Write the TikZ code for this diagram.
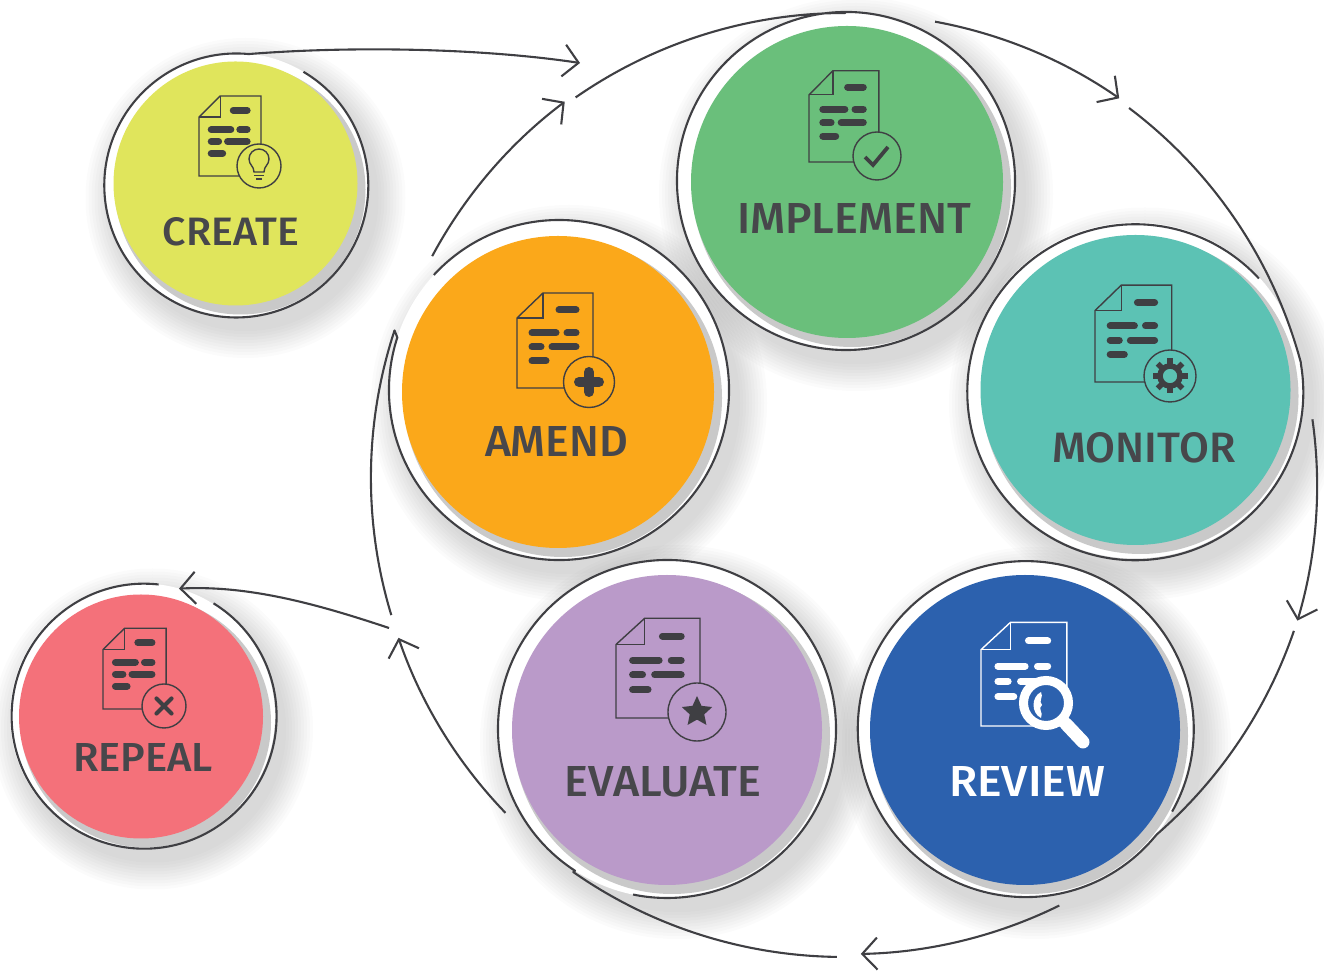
\documentclass[tikz,border=0pt]{standalone}
\usepackage{fontspec}
\setmainfont{Fira Sans}[BoldFont={Fira Sans Medium}]
\usetikzlibrary{arrows.meta,shapes.geometric}
\definecolor{ink}{HTML}{3F3F43}
\definecolor{labelgray}{HTML}{47474B}
\definecolor{createfill}{HTML}{E0E55C}
\definecolor{implfill}{HTML}{6ABF7B}
\definecolor{monitorfill}{HTML}{5CC2B4}
\definecolor{amendfill}{HTML}{FBA81A}
\definecolor{evalfill}{HTML}{BA9AC9}
\definecolor{reviewfill}{HTML}{2C61AE}
\definecolor{repealfill}{HTML}{F4717A}
\newcommand{\tagtext}[3]{\resizebox{#1pt}{#2pt}{\bfseries #3}}
\tikzset{
  docicon/.pic={
    \draw[line width=1.4,line join=miter] (26,95) -- (76,95) -- (76,0) -- (0,0) -- (0,70) -- cycle;
    \draw[line width=1.4] (26,95) -- (26,70) -- (0,70);
    \draw[line width=7,line cap=round] (42,78) -- (59,78)
      (15,55) -- (39,55) (50,55) -- (59,55)
      (15,41) -- (24,41) (35,41) -- (59,41)
      (15,27) -- (29,27);
  }
}
\begin{document}
\begin{tikzpicture}[
    x=1pt,y=1pt,
    ringnode/.style={circle,inner sep=0pt,outer sep=0pt},
    bubble/.style={circle,inner sep=0pt,outer sep=0pt},
    badge/.style={circle,draw=ink,line width=1.4,inner sep=0pt,outer sep=0pt},
    tag/.style={font=\fontsize{41}{41}\selectfont,text=labelgray,inner sep=0pt},
    conn/.style={draw=ink,line width=2.1,line join=round},
    arr/.style={conn,-{Straight Barb[length=15pt,width=32pt,line width=2.1pt]}}
  ]
    \useasboundingbox (0,0) rectangle (1324,971);

    % soft shadows, then the white disc and grey crescent behind each bubble
    \foreach \nm/\cx/\cy/\r in {createring/235.5/786/132,implring/846/790/169,monitorring/1135/580.5/168,
        amendring/559/581/170,evalring/667/242/169,reviewring/1025/241/168,repealring/142.5/255/132.5}{
      \foreach \k in {0,...,9}
        \fill[black,opacity=.014] ({\cx+10},{\cy-13}) circle ({\r+28-\k*3});
    }
    \foreach \nm/\cx/\cy/\r/\fx/\fy/\fr in {createring/235.5/786/132/235.5/787.5/122,implring/846/790/169/847/789/156,
        monitorring/1135/580.5/168/1135.5/581/155,amendring/559/581/170/558/579/156,
        evalring/667/242/169/667/241/155,reviewring/1025/241/168/1025/241/155,
        repealring/142.5/255/132.5/141/254.5/122}{
      \node[ringnode,fill=white,minimum size=2*\r] (\nm) at (\cx,\cy) {};
      \fill[gray!22] ({\fx+3},{\fy-4}) circle ({\fr+2});
      \fill[gray!42] ({\fx+5},{\fy-6}) circle ({\fr+3});
    }
    \node[ringnode,minimum size=944] (loop) at (845,486) {};

    \node[bubble,fill=createfill,minimum size=244]  (create) at (235.5,787.5) {};
    \node[bubble,fill=implfill,minimum size=312]    (impl)   at (847,789) {};
    \node[bubble,fill=monitorfill,minimum size=310] (monitor) at (1135.5,581) {};
    \node[bubble,fill=amendfill,minimum size=312]   (amend)  at (558,579) {};
    \node[bubble,fill=evalfill,minimum size=310]    (eval)   at (667,241) {};
    \node[bubble,fill=reviewfill,minimum size=310]  (review) at (1025,241) {};
    \node[bubble,fill=repealfill,minimum size=244]  (repeal) at (141,254.5) {};

    \node[tag] (createtag)  at (231,739)   {\tagtext{136}{28}{CREATE}};
    \node[tag] (impltag)    at (854,752)   {\tagtext{234}{30}{IMPLEMENT}};
    \node[tag] (monitortag) at (1144,523)  {\tagtext{183}{30}{MONITOR}};
    \node[tag] (amendtag)   at (556.5,529) {\tagtext{143}{30}{AMEND}};
    \node[tag] (evaltag)    at (663,189)   {\tagtext{197}{30}{EVALUATE}};
    \node[tag,text=white] (reviewtag) at (1027,189) {\tagtext{156}{30}{REVIEW}};
    \node[tag] (repealtag)  at (143,213)   {\tagtext{140}{28}{REPEAL}};

    % document icons
    \pic[color=ink,xscale=.816,yscale=.842] at (199,795) {docicon};
    \pic[color=ink,xscale=.92,yscale=.96]   at (809,809) {docicon};
    \pic[color=ink,xscale=1.01,yscale=1.02] at (1095,589) {docicon};
    \pic[color=ink]                         at (517,583) {docicon};
    \pic[color=ink,xscale=1.105,yscale=1.05] at (616,253) {docicon};
    \pic[color=white,xscale=1.13,yscale=1.09] at (981,245) {docicon};
    \pic[color=ink,xscale=.83,yscale=.85]   at (103,262) {docicon};

    \node[badge,fill=createfill,minimum size=44]  (bulb)  at (259,805) {};
    \node[badge,fill=implfill,minimum size=48]    (check) at (877,815) {};
    \node[badge,fill=monitorfill,minimum size=52] (gear)  at (1170,595) {};
    \node[badge,fill=amendfill,minimum size=51]   (plus)  at (589,589) {};
    \node[badge,fill=evalfill,minimum size=58]    (mark)  at (697,259) {};
    \node[badge,fill=repealfill,minimum size=44]  (cross) at (164,265) {};

    % badge glyphs
    \draw[ink,line width=1.4] (254,799) .. controls (254,805) and (249,806) .. (249,812)
      arc[start angle=180,end angle=0,radius=10] .. controls (269,806) and (264,805) .. (264,799) -- cycle;
    \draw[ink,line width=1.7] (254,795.5) -- (264,795.5) (256,792) -- (262,792);
    \draw[ink,line width=3.8,line join=miter] (865,814) -- (873,806) -- (888,824);
    \foreach \a in {0,45,...,315}
      \draw[ink,line width=5.5] (1170,595)++(\a:11) -- ++(\a:6.5);
    \draw[ink,line width=5.5] (1170,595) circle (10);
    \draw[ink,line width=10,line cap=round] (579,589) -- (599,589) (589,579) -- (589,599);
    \node[star,star points=5,star point ratio=2.1,fill=ink,minimum size=32,inner sep=0pt] (starglyph) at (697,259) {};
    \draw[ink,line width=4.2,line cap=round] (156.5,257.5) -- (171.5,272.5) (156.5,272.5) -- (171.5,257.5);

    % magnifier
    \draw[white,line width=13,line cap=round] (1066,247) -- (1083,229);
    \node[circle,draw=white,fill=reviewfill,line width=9,minimum size=45,inner sep=0pt] (lens) at (1046,268) {};
    \fill[white] (1041,279) .. controls (1031,274) and (1031,258) .. (1041,253)
      .. controls (1044,259) and (1037,262) .. (1042,266) .. controls (1038,270) and (1044,274) .. (1041,279) -- cycle;

    % rings and the arcs of the big loop
    \draw[arr] (createring.59.4) arc[start angle=59.4,end angle=-275.4,radius=132]
      .. controls (350,925) and (480,923) .. (580,908);
    \draw[conn] (implring.245) arc[start angle=245,end angle=-270,radius=169]
      -- (loop.90) arc[start angle=90,end angle=124.8,radius=472];
    \draw[arr] (loop.79.6) arc[start angle=79.6,end angle=55.2,radius=472];
    \draw[conn] (loop.53) arc[start angle=53,end angle=15,radius=472]
      -- (monitorring.9.6) arc[start angle=9.6,end angle=-317.4,radius=168];
    \draw[arr] (loop.8.1) arc[start angle=8.1,end angle=-16.6,radius=472];
    \draw[conn] (loop.-18.9) arc[start angle=-18.9,end angle=-49,radius=472]
      -- (reviewring.-40.4) arc[start angle=-40.4,end angle=-389.4,radius=168];
    \draw[arr] (loop.-63.8) arc[start angle=-63.8,end angle=-88.8,radius=472];
    \draw[conn] (loop.269.2) arc[start angle=269.2,end angle=235.1,radius=472]
      -- (evalring.237) arc[start angle=237,end angle=-101.6,radius=169];
    \draw[arr] (loop.224) arc[start angle=224,end angle=198.9,radius=472];
    \draw[conn] (loop.196.9) arc[start angle=196.9,end angle=161.8,radius=472]
      -- (amendring.162) arc[start angle=162,end angle=497.4,radius=170];
    \draw[arr] (loop.151.8) arc[start angle=151.8,end angle=126.9,radius=472];
    \draw[conn] (repealring.83.7) arc[start angle=83.7,end angle=418.4,radius=132.5];
    \coordinate (repealout) at (389,343);
    \draw[arr] (repealout) .. controls (320,366) and (250,386) .. (repealring.74);
  \end{tikzpicture}
\end{document}
